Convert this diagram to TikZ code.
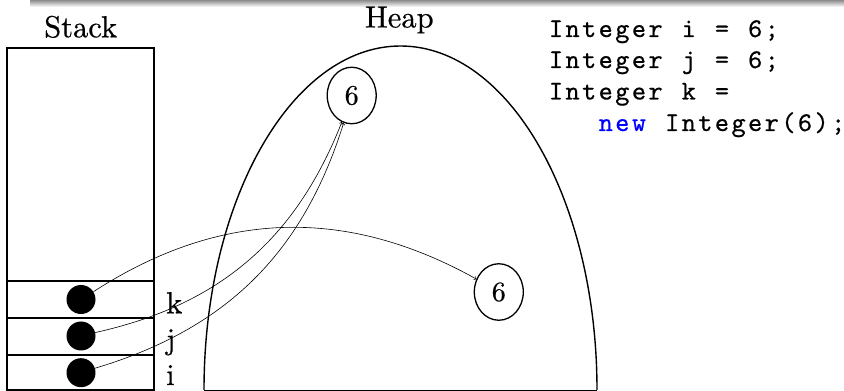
\documentclass[tikz,border=0pt]{standalone}
\usepackage{fontspec}
\usetikzlibrary{shapes.geometric}
\newfontfamily\textfam{lmroman10-regular.otf}[FakeBold=0.5]
\newfontfamily\codefam{lmmono10-regular.otf}[FakeBold=0.6]
\newcommand\palfont{\textfam\fontsize{30.5}{36}\selectfont}
\newcommand\sixfont{\textfam\fontsize{28}{34}\selectfont}
\newcommand\codefont{\codefam\fontsize{27}{32}\selectfont}
\newlength\pitchlen \setlength\pitchlen{16.6pt}
\def\monoend{\monoend}
\def\mono#1{\monoloop#1\monoend}
\def\monoloop#1{\ifx#1\monoend\else\makebox[\pitchlen]{#1}\expandafter\monoloop\fi}
\tikzset{
  lbl/.style={font=\palfont, inner sep=0pt},
  code/.style={font=\codefont, inner sep=0pt, anchor=base west},
  ref/.style={circle, fill=black, minimum size=29pt, inner sep=0pt},
  obj/.style={ellipse, draw, line width=1.3pt, minimum width=49pt, minimum height=56.5pt, inner sep=0pt, font=\sixfont},
  ptr/.style={->, line width=0.6pt},
  frame/.style={line width=1.4pt}
}
\begin{document}
\begin{tikzpicture}[x=1pt,y=1pt]
\useasboundingbox (0,0) rectangle (844,391);
% top shadow
\shade[top color=black!45, bottom color=white] (30,384) rectangle (844,391);
% stack
\node[lbl, anchor=base] (stacklbl) at (80.7,353.7) {Stack};
\draw[frame] (7,1) rectangle (154,343);
\draw[frame] (7,110) -- (154,110);
\draw[frame] (7,73) -- (154,73);
\draw[frame] (7,36) -- (154,36);
\node[ref] (ck) at (81,91.5) {};
\node[ref] (cj) at (81,55) {};
\node[ref] (ci) at (81,18.3) {};
\node[lbl, anchor=base west] (lk) at (166,77.7) {k};
\node[lbl, anchor=base west] (lj) at (166,41.8) {j};
\node[lbl, anchor=base west] (li) at (166,6) {i};
% heap
\node[lbl, anchor=base] (heaplbl) at (399.3,363.5) {Heap};
\draw[line width=1.4pt] (204,1) arc[start angle=180, end angle=0, x radius=196.5, y radius=344];
\draw[line width=0.8pt] (204,1) -- (597,1);
\node[obj] (six1) at (351.7,295.5) {6};
\node[obj] (six2) at (498.8,99) {6};
% pointers
\draw[ptr] (ck) to[bend left=31] (six2);
\draw[ptr] (cj) to[bend right=28] (six1);
\draw[ptr] (ci) to[bend right=28] (six1);
% code
\node[code] (c1) at (547.5,354) {\mono{Integer~i~=~6;}};
\node[code] (c2) at (547.5,323) {\mono{Integer~j~=~6;}};
\node[code] (c3) at (547.5,291.5) {\mono{Integer~k~=}};
\node[code] (c4) at (547.5,260) {\mono{~~~}\textcolor{blue}{\mono{new}}\mono{~Integer(6);}};
\end{tikzpicture}
\end{document}
